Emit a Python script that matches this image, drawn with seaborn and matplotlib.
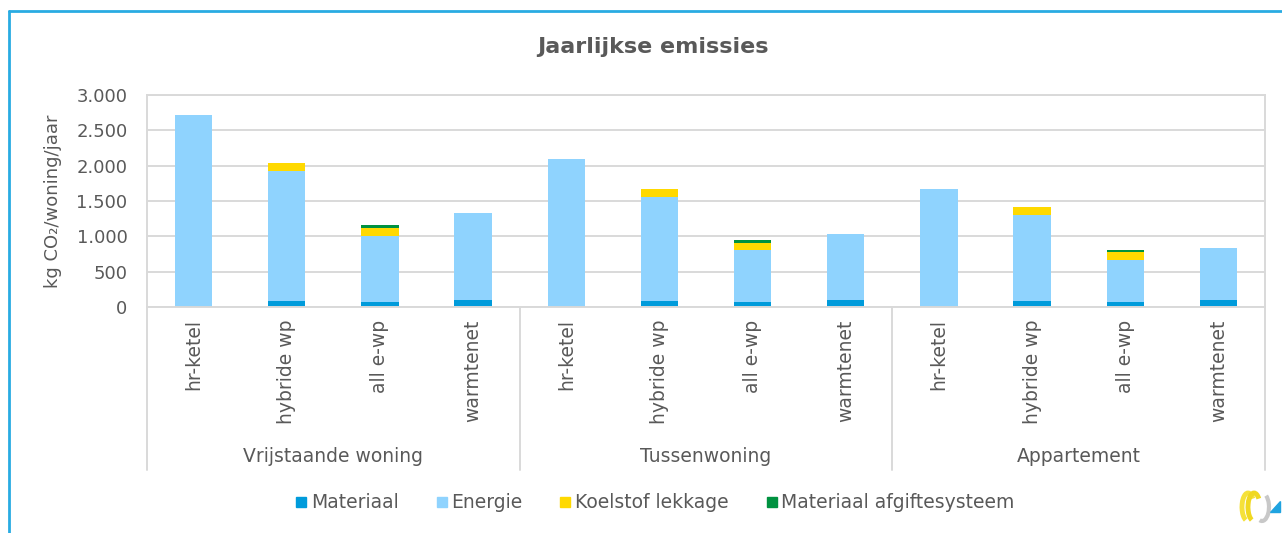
import numpy as np
import pandas as pd
import matplotlib.pyplot as plt
import matplotlib.transforms as mtransforms
from matplotlib.lines import Line2D
from matplotlib.patches import Arc, Polygon
import seaborn as sns

# ============================
# Data
# ============================
woningtypes = ["Vrijstaande woning", "Tussenwoning", "Appartement"]
systemen = ["hr-ketel", "hybride wp", "all e-wp", "warmtenet"]

materiaal = [10, 90, 66, 100, 10, 90, 66, 100, 10, 90, 66, 100]
energie = [2708, 1838, 945, 1231, 2091, 1467, 734, 931, 1664, 1217, 593, 729]
koelstof = [0, 113, 103, 0, 0, 117, 112, 0, 0, 113, 113, 0]
afgifte = [0, 0, 43, 0, 0, 0, 38, 0, 0, 0, 37, 0]

reeksen = ["Materiaal", "Energie", "Koelstof lekkage", "Materiaal afgiftesysteem"]
kleuren = ["#009bdb", "#8fd3fe", "#ffd900", "#009240"]

keys = [f"{w}|{s}" for w in woningtypes for s in systemen]
df = pd.DataFrame({"key": keys, "Materiaal": materiaal, "Energie": energie,
                   "Koelstof lekkage": koelstof, "Materiaal afgiftesysteem": afgifte})
cum = df[reeksen].cumsum(axis=1)
df[[r + "_cum" for r in reeksen]] = cum.values

# ============================
# Figure
# ============================
sns.set_theme(style="white")
plt.rcParams["font.family"] = ["DejaVu Sans"]
grijs = "#595959"
lijn = "#d9d9d9"

W, H = 1282, 533
fig = plt.figure(figsize=(W / 100, H / 100), dpi=100)
ax = fig.add_axes([147 / W, 1 - 307 / H, (1265 - 147) / W, (307 - 95) / H])

# gestapelde staven: cumulatieve totalen van boven naar beneden tekenen
for r, c in zip(reversed(reeksen), reversed(kleuren)):
    sns.barplot(data=df, x="key", y=r + "_cum", order=keys, color=c, width=0.4,
                saturation=1, errorbar=None, linewidth=0, ax=ax)

ax.set_xlim(-0.5, 11.5)
ax.set_ylim(0, 3000)
ax.set_yticks(np.arange(0, 3001, 500))
ax.set_yticklabels([f"{int(v):,}".replace(",", ".") for v in np.arange(0, 3001, 500)],
                   fontsize=13, color=grijs)
ax.yaxis.grid(True, color=lijn, lw=1.4)
ax.set_axisbelow(True)
for s in ax.spines.values():
    s.set_color(lijn)
    s.set_linewidth(1.4)

ax.set_xticks(range(len(keys)))
ax.set_xticklabels(systemen * 3, rotation=90, fontsize=13.5, color=grijs)
ax.tick_params(axis="both", length=0)
ax.tick_params(axis="x", pad=9)
ax.tick_params(axis="y", pad=14)
ax.set_xlabel("")
ax.set_ylabel("kg CO₂/woning/jaar", fontsize=13, color=grijs)
ax.yaxis.set_label_coords((62 - 147) / 1118, 0.5)

# groepslabels en scheidingslijnen
trans = mtransforms.blended_transform_factory(ax.transData, ax.transAxes)
for i, w in enumerate(woningtypes):
    ax.text(i * 4 + 1.5, (307 - 457) / 212, w, transform=trans, ha="center",
            va="center", fontsize=13.5, color=grijs)
for x in [-0.5, 3.5, 7.5, 11.5]:
    ax.plot([x, x], [0, (307 - 470) / 212], transform=trans, clip_on=False,
            color=lijn, lw=1.4)

fig.text(653 / W, 1 - 47 / H, "Jaarlijkse emissies", ha="center", va="center",
         fontsize=16, fontweight="bold", color=grijs)

handles = [Line2D([], [], marker="s", ls="", color=c, markersize=7) for c in kleuren]
fig.legend(handles, reeksen, loc="center", bbox_to_anchor=(655 / W, 1 - 503 / H),
           ncol=4, frameon=False, handlelength=0.6, handletextpad=0.2,
           columnspacing=2.0, fontsize=13.5, labelcolor=grijs)

# blauw kader
blauw = "#29abe2"
fig.add_artist(Line2D([9 / W, 9 / W], [0, 1 - 11 / H], color=blauw, lw=2))
fig.add_artist(Line2D([9 / W, 1], [1 - 11 / H, 1 - 11 / H], color=blauw, lw=2))

# logo rechtsonder (benadering)
lax = fig.add_axes([1234 / W, 1 - 526 / H, 48 / W, 38 / H])
lax.set_xlim(1234, 1282)
lax.set_ylim(526, 488)
lax.axis("off")
lax.add_patch(Arc((1248, 507), 12, 28, theta1=100, theta2=300, color="#f5e13a", lw=3.5))
lax.add_patch(Arc((1254, 507), 12, 28, theta1=100, theta2=300, color="#f0d820", lw=3.5))
lax.add_patch(Arc((1262, 507), 14, 28, theta1=-70, theta2=100, color="#c8c8c8", lw=3))
lax.add_patch(Polygon([[1270, 512], [1280, 512], [1280, 501]], closed=True, color="#1fa3e0"))

fig.savefig("out.png", dpi=100)
